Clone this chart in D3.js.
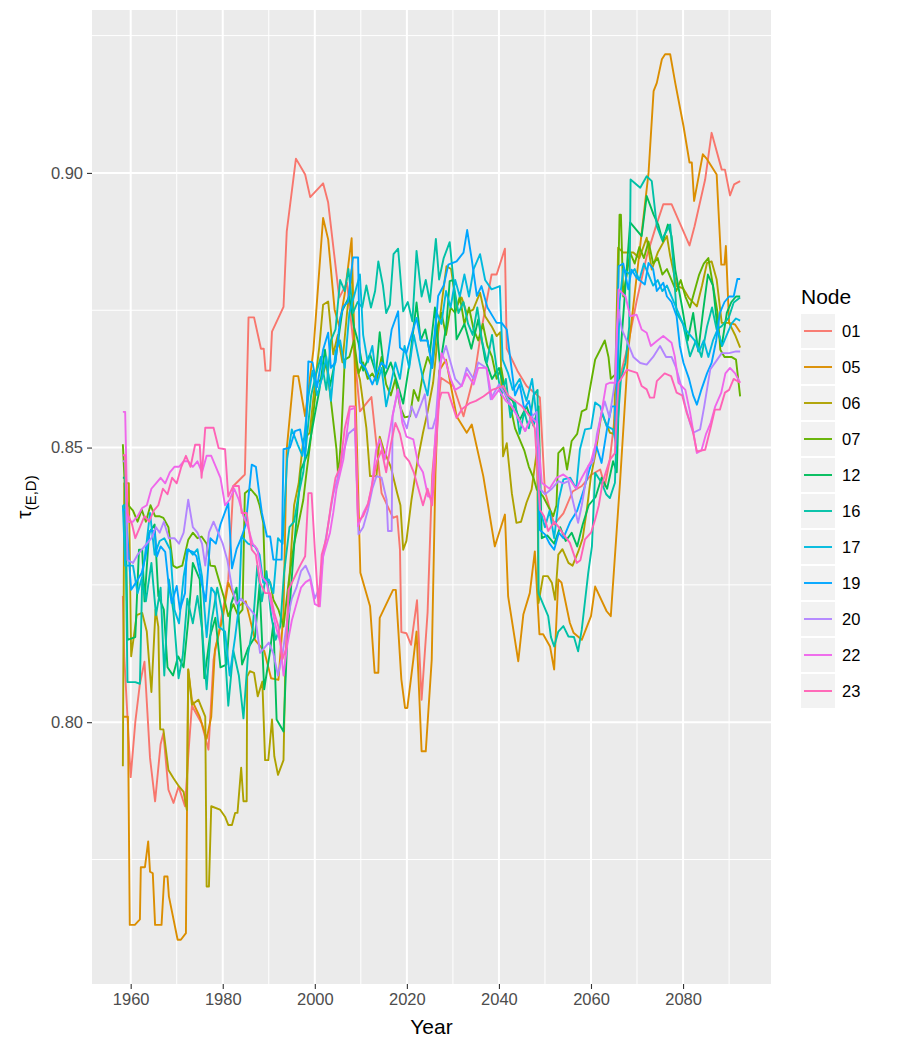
<!DOCTYPE html>
<html>
<head>
<meta charset="utf-8">
<script src="https://cdn.jsdelivr.net/npm/d3@7"></script>
<style>
  body { margin: 0; background: #fff; }
  svg text { font-family: "Liberation Sans", Arial, Helvetica, sans-serif; }
</style>
</head>
<body>
<div id="chart"></div>
<script>
// node ids and ggplot hue colours
const nodes = ["01", "05", "06", "07", "12", "16", "17", "19", "20", "22", "23"];
const colors = ["#F8766D", "#DB8E00", "#AEA200", "#64B200", "#00BD5C", "#00C1A7", "#00BADE", "#00A6FF", "#B385FF", "#EF67EB", "#FF63B6"];

// tick values
const xMajor = [1960, 1980, 2000, 2020, 2040, 2060, 2080];
const xMinor = [1970, 1990, 2010, 2030, 2050, 2070, 2090];
const yMajor = [0.80, 0.85, 0.90];
const yMinor = [0.775, 0.825, 0.875, 0.925];

// series values: [year, tau]
const s01 = [[1958.3,0.823],[1958.6,0.812],[1960,0.790],[1961,0.800],[1962,0.807],[1963,0.811],[1964.2,0.7935],[1965.3,0.7856],[1966.5,0.796],[1967.1,0.798],[1968.2,0.7877],[1969.3,0.7853],[1970.4,0.7883],[1971.8,0.7847],[1972.6,0.795],[1973.3,0.803],[1975.4,0.7998],[1976.9,0.795],[1978,0.8114],[1979.5,0.818],[1981.2,0.826],[1982.3,0.843],[1984.8,0.8451],[1985.6,0.8737],[1986.8,0.8737],[1988.3,0.868],[1988.9,0.868],[1989.3,0.864],[1990.3,0.864],[1990.7,0.8711],[1993.2,0.8756],[1993.9,0.8893],[1995.9,0.9026],[1997.9,0.8997],[1999,0.8956],[2001.8,0.8981],[2002.9,0.8946],[2005.3,0.8773],[2007,0.880],[2008.5,0.868],[2009.8,0.8566],[2012.3,0.8592],[2014.5,0.8417],[2017,0.8372],[2017.9,0.8375],[2018.5,0.8314],[2018.8,0.8164],[2019.9,0.8162],[2020.9,0.8141],[2022.2,0.8222],[2023.2,0.8041],[2024.5,0.820],[2025.5,0.845],[2027.4,0.8627],[2030.1,0.8612],[2032.3,0.8557],[2034.9,0.8642],[2036.2,0.8715],[2038.4,0.8815],[2039.5,0.8815],[2041.3,0.8862],[2041.7,0.868],[2044,0.864],[2046,0.8612],[2048.9,0.8591],[2050,0.842],[2052,0.836],[2054,0.838],[2056,0.842],[2058,0.843],[2060,0.845],[2062,0.846],[2063,0.843],[2064.1,0.8478],[2066,0.8619],[2067.8,0.8678],[2070,0.877],[2072.1,0.8848],[2074,0.890],[2075.7,0.8943],[2077.5,0.8943],[2081.4,0.8868],[2082.5,0.8903],[2084.8,0.8988],[2086.2,0.9073],[2088.4,0.9006],[2089.1,0.9006],[2090.2,0.8959],[2091.1,0.8979],[2092.4,0.8985]];
const s05 = [[1958.3,0.801],[1959.4,0.801],[1959.8,0.7631],[1960.9,0.7631],[1962,0.7641],[1962.2,0.7736],[1963.1,0.7736],[1963.8,0.7783],[1964.2,0.7728],[1964.8,0.7725],[1965.3,0.7631],[1966.7,0.7631],[1967.3,0.7719],[1968,0.7719],[1968.3,0.7683],[1970.2,0.7604],[1970.9,0.7604],[1972,0.7616],[1972.5,0.8096],[1973.3,0.804],[1975,0.801],[1976.5,0.797],[1977.5,0.801],[1978.3,0.8132],[1980,0.819],[1981.2,0.8254],[1983.4,0.8211],[1985,0.822],[1987,0.815],[1989,0.813],[1990.5,0.808],[1992.1,0.8077],[1993.2,0.820],[1993.9,0.8497],[1995.4,0.863],[1996.4,0.863],[1997.9,0.8557],[1999.7,0.8678],[2001.8,0.8918],[2002.9,0.8879],[2004.3,0.8751],[2005.3,0.8721],[2006.5,0.878],[2008,0.8881],[2008.7,0.864],[2009.9,0.8272],[2012,0.8211],[2013,0.809],[2013.8,0.809],[2014.1,0.819],[2017,0.8241],[2017.6,0.8241],[2018.8,0.8078],[2019.6,0.8026],[2020.1,0.8026],[2021.4,0.8114],[2022.1,0.8165],[2023.2,0.7947],[2024.1,0.7947],[2025.4,0.8114],[2026.2,0.845],[2027,0.864],[2028.5,0.866],[2030.8,0.8557],[2033,0.8527],[2034.1,0.8542],[2036.6,0.8448],[2039.1,0.832],[2041.3,0.8378],[2042,0.8229],[2044.2,0.8111],[2045.3,0.8196],[2046.7,0.8235],[2047.8,0.8311],[2048.8,0.816],[2049.6,0.816],[2051.1,0.8138],[2052,0.8096],[2052.9,0.826],[2053.6,0.8254],[2055.4,0.8181],[2056.2,0.8163],[2058,0.815],[2060,0.8193],[2060.9,0.8247],[2063.4,0.8202],[2064.3,0.8193],[2066.3,0.8436],[2068.1,0.8678],[2072.5,0.900],[2073.6,0.9149],[2074.3,0.9164],[2075.4,0.9207],[2076.1,0.9216],[2077.2,0.9216],[2078.3,0.9164],[2080.1,0.9085],[2081.4,0.9019],[2081.9,0.9019],[2082.4,0.8949],[2083,0.8976],[2084.3,0.9034],[2085.2,0.9025],[2087.3,0.8997],[2088.3,0.8833],[2089,0.8833],[2089.3,0.8867],[2090,0.8727],[2091.3,0.8724],[2092.4,0.871]];
const s06 = [[1958.3,0.792],[1958.6,0.8435],[1959.6,0.8435],[1960.1,0.812],[1961.3,0.8195],[1962.5,0.8199],[1963.5,0.8165],[1964.5,0.8055],[1965.4,0.8205],[1966,0.8174],[1966.4,0.7987],[1967.1,0.7987],[1968.2,0.7913],[1969.3,0.7898],[1970.5,0.7883],[1971.5,0.7873],[1972.2,0.784],[1972.5,0.8096],[1973.3,0.8032],[1974.7,0.8041],[1976.2,0.801],[1976.5,0.7701],[1977,0.7701],[1977.5,0.7847],[1979.4,0.7841],[1980.5,0.7828],[1981.2,0.7813],[1982,0.7813],[1982.7,0.7835],[1983.2,0.7835],[1984,0.7917],[1984.5,0.7856],[1985.2,0.7856],[1985.3,0.8083],[1985.9,0.8093],[1986.8,0.809],[1987.6,0.8047],[1988.6,0.8074],[1989.2,0.7931],[1989.9,0.7931],[1990.7,0.8005],[1991.2,0.7938],[1992,0.7904],[1993.2,0.7931],[1993.6,0.8105],[1994.5,0.8265],[1995.5,0.8395],[1996.5,0.8435],[1997.5,0.8515],[1998.9,0.8527],[2000,0.8615],[2001,0.8685],[2001.8,0.876],[2002.9,0.8766],[2004,0.867],[2005,0.8705],[2006,0.8655],[2007,0.8745],[2008,0.8824],[2008.8,0.8657],[2009.8,0.8624],[2011.2,0.8536],[2012,0.8448],[2013.4,0.8448],[2014.1,0.852],[2015,0.8495],[2016.5,0.8465],[2017.9,0.8417],[2018.6,0.8395],[2019.2,0.8314],[2019.9,0.833],[2021,0.8405],[2022.3,0.8475],[2023.5,0.8527],[2024.5,0.8565],[2025.7,0.8618],[2026.8,0.8709],[2027.6,0.8765],[2028.6,0.883],[2029.6,0.8825],[2030.8,0.8757],[2031.9,0.8773],[2033,0.8745],[2034.4,0.8751],[2035.9,0.8782],[2037,0.8739],[2038.4,0.8721],[2039.5,0.8703],[2040.3,0.871],[2040.6,0.8582],[2040.9,0.8484],[2041.7,0.8508],[2042.8,0.8417],[2043.8,0.8363],[2044.8,0.8365],[2046,0.84],[2047.1,0.8424],[2048.3,0.8497],[2048.6,0.8217],[2049.6,0.8266],[2050.6,0.8266],[2051.5,0.8254],[2052.2,0.8223],[2052.9,0.8305],[2053.8,0.8315],[2055.1,0.829],[2056,0.8285],[2057.2,0.831],[2058.2,0.8335],[2059.1,0.8387],[2060,0.8448],[2061,0.849],[2062.3,0.8563],[2063.2,0.8545],[2064.1,0.8527],[2065,0.8525],[2065.9,0.8864],[2067,0.8855],[2069.2,0.8855],[2070.5,0.8845],[2072.1,0.8882],[2073.2,0.8824],[2074.5,0.8855],[2075.8,0.8875],[2076.5,0.8885],[2077.2,0.8849],[2078.6,0.8794],[2080,0.879],[2081.2,0.8773],[2083,0.8757],[2084.1,0.8794],[2085.2,0.8836],[2086.2,0.8839],[2087.3,0.8806],[2088.4,0.8727],[2090,0.8727],[2091.3,0.8705],[2092.4,0.8682]];
const s07 = [[1958.3,0.8506],[1958.8,0.8415],[1959.5,0.8395],[1960.5,0.8385],[1961.5,0.8365],[1962.4,0.8387],[1963.3,0.8365],[1964.3,0.8395],[1965.3,0.8375],[1966.2,0.8375],[1967.1,0.8372],[1968.2,0.8355],[1969.2,0.8285],[1970,0.8281],[1971.2,0.8285],[1972.5,0.8332],[1973.5,0.8345],[1974.5,0.8335],[1975.4,0.8338],[1976.5,0.8325],[1977.3,0.8285],[1978.3,0.8284],[1979.3,0.8255],[1980.2,0.8229],[1981.2,0.8193],[1982.3,0.8215],[1983.3,0.8195],[1984.3,0.8205],[1984.8,0.8417],[1986,0.8425],[1987.4,0.8411],[1988,0.8395],[1988.8,0.8363],[1989.2,0.8254],[1990.3,0.8255],[1991,0.8223],[1992.1,0.8205],[1993.2,0.8174],[1994.3,0.8254],[1995.5,0.8325],[1996.5,0.8363],[1997.5,0.8405],[1998.2,0.8455],[1999,0.8508],[2000.4,0.8618],[2001.5,0.8625],[2002.5,0.8655],[2003.5,0.8585],[2004.7,0.8497],[2005.1,0.8445],[2005.8,0.853],[2006.5,0.866],[2007.5,0.8665],[2008.5,0.8695],[2009.5,0.8635],[2010.5,0.8655],[2011.5,0.8625],[2012.5,0.8635],[2013.4,0.8621],[2014.5,0.8665],[2015.5,0.8615],[2016.5,0.8595],[2017.5,0.8625],[2018.5,0.8575],[2019.5,0.8555],[2020.7,0.8557],[2021.5,0.8605],[2022.5,0.8585],[2023.5,0.8635],[2024.5,0.8665],[2025.5,0.8645],[2026.5,0.8715],[2027.5,0.8745],[2028.5,0.8705],[2029.5,0.8755],[2030.5,0.8745],[2031.5,0.8775],[2032.5,0.8725],[2033.5,0.8755],[2034.5,0.8715],[2035.5,0.8695],[2036.5,0.8725],[2037.5,0.8685],[2038.5,0.8665],[2039.5,0.8625],[2040.5,0.8645],[2041.5,0.8595],[2042.5,0.8575],[2043.5,0.8535],[2044.5,0.8515],[2045.5,0.8495],[2046.5,0.8465],[2047.5,0.8445],[2048.2,0.8424],[2049.6,0.8411],[2050.7,0.8393],[2051.8,0.8375],[2052.5,0.8395],[2052.9,0.849],[2054,0.85],[2054.8,0.846],[2055.8,0.8512],[2057,0.8525],[2058,0.8566],[2059,0.857],[2060,0.8618],[2060.9,0.866],[2062,0.8678],[2063,0.8695],[2063.8,0.8665],[2064.3,0.8625],[2065.5,0.8635],[2066.2,0.8924],[2066.5,0.8924],[2067,0.8775],[2068.5,0.8855],[2069.5,0.8835],[2070.5,0.8865],[2071.5,0.8845],[2072.5,0.8875],[2073.5,0.8835],[2074.5,0.8845],[2075.5,0.8815],[2076.5,0.8825],[2077.5,0.8805],[2078.5,0.8785],[2079.5,0.8805],[2080.5,0.8775],[2081.5,0.8755],[2082.5,0.8785],[2083.5,0.8815],[2084.5,0.8835],[2085.5,0.8845],[2086.5,0.8795],[2087.5,0.8745],[2088.1,0.8678],[2089,0.8665],[2090.5,0.8665],[2091.5,0.866],[2092.4,0.8593]];
const s12 = [[1958.3,0.8445],[1958.8,0.8445],[1959.3,0.815],[1961,0.8155],[1961.8,0.8314],[1962.5,0.8314],[1963,0.822],[1964,0.8345],[1965.2,0.836],[1966,0.823],[1967.2,0.8205],[1968,0.81],[1969.2,0.8085],[1970.3,0.812],[1971.5,0.81],[1972.5,0.8185],[1973.5,0.829],[1975,0.826],[1976,0.808],[1977.2,0.8155],[1978.4,0.819],[1979.5,0.81],[1980.8,0.8105],[1981.8,0.8215],[1983,0.8245],[1984.2,0.8105],[1985.5,0.8135],[1987,0.8155],[1988,0.825],[1989,0.806],[1990.2,0.8125],[1991,0.818],[1991.7,0.8005],[1993.2,0.7983],[1994,0.815],[1995.5,0.832],[1997,0.846],[1998.5,0.849],[2000,0.856],[2001,0.8605],[2002.2,0.8678],[2003.3,0.8612],[2004.5,0.866],[2006,0.875],[2007.5,0.8775],[2008.5,0.872],[2009.5,0.869],[2010.5,0.864],[2012,0.867],[2013.3,0.8635],[2014.1,0.871],[2015.2,0.863],[2016.5,0.8655],[2018,0.8615],[2019.2,0.858],[2020.5,0.865],[2022.1,0.8764],[2023,0.8695],[2024,0.8715],[2025,0.8672],[2026.1,0.8755],[2027.2,0.865],[2028.6,0.8724],[2029.3,0.8803],[2030.1,0.8805],[2030.8,0.8697],[2032.5,0.8725],[2034,0.868],[2035.5,0.8733],[2037,0.866],[2038.5,0.8625],[2040,0.8645],[2041.5,0.8595],[2043,0.8585],[2044.5,0.855],[2046,0.8575],[2047.5,0.854],[2048.6,0.8575],[2049.3,0.8335],[2050.5,0.834],[2052,0.8325],[2053.3,0.8355],[2054.5,0.833],[2055.8,0.8345],[2057,0.832],[2058.2,0.836],[2059.5,0.8395],[2061,0.841],[2062.3,0.8445],[2063.5,0.8425],[2064.8,0.8475],[2065.6,0.8455],[2066.3,0.866],[2067.5,0.8795],[2068.5,0.891],[2070,0.8895],[2071,0.8885],[2072.1,0.8958],[2073.6,0.8924],[2074.6,0.8906],[2075.6,0.8875],[2076.7,0.8906],[2077.5,0.8885],[2078.3,0.8824],[2079.8,0.8755],[2081,0.8695],[2082.2,0.8745],[2083.3,0.8675],[2084.3,0.8745],[2085.4,0.8815],[2086.5,0.8795],[2087.5,0.8715],[2088.4,0.8685],[2089.5,0.8745],[2090.5,0.8765],[2091.5,0.8775],[2092.4,0.8775]];
const s16 = [[1958.3,0.8395],[1958.8,0.8395],[1959.3,0.8073],[1961,0.8073],[1962,0.807],[1962.5,0.826],[1963.3,0.822],[1964.5,0.829],[1965.5,0.8195],[1966.5,0.8245],[1967.3,0.8085],[1968.3,0.826],[1969.3,0.82],[1970.4,0.808],[1971.3,0.812],[1972.3,0.8225],[1973.5,0.818],[1974.5,0.823],[1975.5,0.817],[1976.5,0.806],[1977.5,0.818],[1978.8,0.8245],[1980,0.8195],[1981.2,0.803],[1982.3,0.813],[1983.5,0.8085],[1984.5,0.8007],[1985.5,0.8125],[1986.5,0.817],[1987.5,0.8285],[1988.5,0.822],[1989.5,0.8275],[1990.5,0.8195],[1991.5,0.815],[1992.5,0.8175],[1993.3,0.827],[1994.5,0.8355],[1995.5,0.8365],[1996.5,0.8415],[1997.5,0.8455],[1998.3,0.852],[1999.2,0.8595],[2000.3,0.8635],[2001.3,0.8665],[2002.5,0.8605],[2003.5,0.8695],[2004.5,0.8715],[2005.5,0.8805],[2006.5,0.8785],[2007.3,0.8825],[2008.3,0.8745],[2009.3,0.8765],[2010.3,0.8755],[2011.2,0.8795],[2012.2,0.8755],[2013.1,0.8785],[2013.8,0.8839],[2014.8,0.8795],[2015.5,0.8745],[2016.3,0.876],[2017.1,0.8852],[2018.1,0.8862],[2019.2,0.8748],[2020.2,0.8765],[2021.2,0.873],[2022.1,0.8858],[2023.2,0.8775],[2024.1,0.8805],[2025,0.8765],[2026.3,0.888],[2027,0.8806],[2028,0.8845],[2029.3,0.8874],[2030.3,0.879],[2031.2,0.8745],[2032.3,0.8765],[2033.3,0.8725],[2034.3,0.8705],[2035.3,0.8755],[2036.3,0.8695],[2037.4,0.8655],[2038.5,0.8705],[2039.5,0.8645],[2040.5,0.8595],[2041.5,0.8625],[2042.5,0.8555],[2043.5,0.8585],[2044.5,0.8525],[2045.5,0.8565],[2046.5,0.8535],[2047.5,0.8595],[2048.4,0.8605],[2048.6,0.8235],[2049.6,0.8215],[2050.7,0.8193],[2051.3,0.8155],[2052,0.8138],[2052.9,0.8165],[2054,0.8175],[2055.1,0.8156],[2056.3,0.8155],[2057.2,0.8129],[2058,0.8169],[2059.4,0.8272],[2060.2,0.832],[2060.9,0.8454],[2062.3,0.8436],[2063.3,0.8415],[2064.1,0.8408],[2065.2,0.8436],[2065.5,0.851],[2066.5,0.8625],[2067.5,0.8655],[2068.3,0.872],[2068.6,0.8988],[2070.7,0.8973],[2072.1,0.8994],[2073.2,0.8985],[2074.3,0.8903],[2075.4,0.8879],[2077.2,0.8906],[2077.8,0.8845],[2078.6,0.8745],[2080,0.8725],[2081.5,0.8666],[2082.8,0.8695],[2084,0.8665],[2085.2,0.872],[2086.3,0.8755],[2087.3,0.8715],[2088.4,0.8721],[2089.9,0.8736],[2091,0.8764],[2092.4,0.8773]];
const s17 = [[1958.3,0.8395],[1958.8,0.8285],[1960.5,0.8285],[1961.5,0.8235],[1962.5,0.8265],[1963.5,0.833],[1964.2,0.8381],[1965.2,0.8305],[1966.3,0.833],[1967.3,0.8335],[1968.6,0.8314],[1969.5,0.8205],[1970.5,0.818],[1971.5,0.8265],[1972.5,0.8315],[1973.5,0.8305],[1974.5,0.8315],[1975.5,0.8265],[1976.5,0.8155],[1977.5,0.8245],[1978.3,0.8235],[1979.1,0.8174],[1980.5,0.8165],[1981.5,0.8085],[1982.7,0.8156],[1983.5,0.821],[1984.1,0.8338],[1985.5,0.8325],[1987,0.832],[1988,0.8305],[1988.8,0.8254],[1990,0.826],[1991,0.8235],[1992,0.8335],[1993,0.8325],[1994,0.848],[1995,0.8533],[1996.3,0.8505],[1997.3,0.8485],[1998.6,0.8593],[1999.5,0.864],[2000.5,0.8595],[2001.5,0.8625],[2002.5,0.8665],[2003.5,0.8585],[2004.5,0.8675],[2005.5,0.8695],[2006.5,0.8645],[2007.5,0.8745],[2008.5,0.8775],[2009.8,0.8815],[2010.5,0.8705],[2011.5,0.8655],[2012.5,0.8685],[2013.5,0.8615],[2014.5,0.8645],[2015.5,0.8575],[2016.5,0.8615],[2017.5,0.8655],[2018.5,0.8625],[2019.5,0.8685],[2020.5,0.8645],[2021.5,0.8705],[2022.5,0.8665],[2023.5,0.8625],[2024.5,0.8595],[2025.5,0.8665],[2026.5,0.8745],[2027.5,0.8725],[2028.5,0.8785],[2029.5,0.8755],[2030.5,0.8805],[2031.5,0.8775],[2032.5,0.8815],[2033.5,0.8775],[2034.5,0.8825],[2035.9,0.8852],[2037,0.8805],[2038.4,0.8788],[2040.2,0.8794],[2040.8,0.866],[2042,0.8635],[2043,0.8605],[2044.5,0.8625],[2046,0.8585],[2047.2,0.8625],[2048.2,0.8555],[2049,0.8385],[2050,0.8355],[2051,0.8385],[2052,0.8335],[2053,0.8405],[2054,0.8442],[2055.5,0.8445],[2056.8,0.8425],[2057.6,0.8497],[2058.7,0.8533],[2060,0.8535],[2060.9,0.8582],[2062,0.8575],[2063.4,0.8539],[2064.8,0.8533],[2065.5,0.8505],[2066.2,0.8765],[2067,0.8825],[2068.5,0.8815],[2069.5,0.8825],[2070.5,0.8805],[2071.5,0.8835],[2072.5,0.8815],[2073.5,0.8795],[2074.5,0.8805],[2075.5,0.8785],[2076.5,0.8795],[2077.5,0.8775],[2078.5,0.8755],[2079.5,0.8735],[2080.5,0.8715],[2081.5,0.8705],[2082.5,0.8695],[2083.5,0.8675],[2084.5,0.8695],[2085.5,0.8665],[2086.5,0.8695],[2087.5,0.8715],[2088.5,0.8685],[2089.5,0.8705],[2090.5,0.8725],[2091.5,0.8735],[2092.4,0.8731]];
const s19 = [[1958.3,0.8387],[1958.9,0.8387],[1960.1,0.8241],[1961.2,0.8255],[1962.4,0.8272],[1963.3,0.8305],[1964.2,0.8348],[1965.2,0.8348],[1965.7,0.8302],[1966.5,0.832],[1967.5,0.831],[1968.2,0.8254],[1968.9,0.8217],[1970,0.8248],[1970.7,0.8205],[1971.8,0.8235],[1972.2,0.8314],[1973.5,0.831],[1974.3,0.8302],[1975.4,0.8254],[1976.3,0.822],[1977.3,0.8335],[1978.5,0.8325],[1979.5,0.836],[1981.2,0.8399],[1982,0.828],[1983,0.8315],[1984,0.8335],[1985,0.836],[1986.3,0.8469],[1987.2,0.8465],[1987.8,0.8425],[1988.5,0.8381],[1989.6,0.8338],[1990.3,0.8338],[1991,0.8296],[1992.8,0.8296],[1993.2,0.8497],[1994.6,0.85],[1995.7,0.853],[1996.8,0.8533],[1997.9,0.8484],[1998.6,0.8657],[1999.5,0.8655],[2000.5,0.861],[2001.8,0.8678],[2002.9,0.8709],[2003.5,0.8645],[2004.5,0.8655],[2005.5,0.8735],[2006.2,0.8757],[2007.2,0.8765],[2008.3,0.8846],[2009.4,0.8846],[2009.8,0.8655],[2011,0.8645],[2012.5,0.8615],[2013.5,0.8635],[2014.5,0.8655],[2015.5,0.8645],[2016.7,0.8715],[2018.1,0.8748],[2018.5,0.8682],[2019.9,0.8672],[2021,0.8705],[2022.1,0.8736],[2023,0.8695],[2024.5,0.8695],[2025.5,0.8645],[2026.8,0.8776],[2028,0.8795],[2029,0.8833],[2030.8,0.8839],[2032.3,0.8855],[2033.1,0.8896],[2034.1,0.8842],[2035.2,0.8776],[2036.2,0.8794],[2037.5,0.8755],[2039.5,0.8727],[2040.6,0.8727],[2041.7,0.8715],[2042.4,0.8666],[2043.5,0.8595],[2044.5,0.8615],[2045.5,0.857],[2046.5,0.8585],[2047.5,0.8545],[2048.3,0.8555],[2048.9,0.835],[2050,0.8342],[2051,0.8325],[2052,0.8314],[2053,0.8345],[2054,0.8335],[2055.5,0.8365],[2057,0.8385],[2058.5,0.8425],[2059.5,0.8455],[2061.2,0.8502],[2062.3,0.8472],[2063.5,0.8535],[2064.5,0.8575],[2065.2,0.8575],[2065.4,0.849],[2066,0.883],[2067,0.8835],[2068.1,0.8788],[2068.8,0.8824],[2069.9,0.8809],[2071.7,0.8797],[2072.5,0.8836],[2073.5,0.8825],[2074.3,0.8785],[2075.7,0.88],[2076.5,0.8775],[2077.5,0.8765],[2078.6,0.8739],[2079.3,0.8685],[2080.1,0.8654],[2081.3,0.8625],[2082.2,0.8595],[2083,0.8578],[2084,0.8606],[2085.2,0.8635],[2086.2,0.8654],[2087.2,0.8695],[2088,0.8745],[2089,0.8765],[2090,0.8775],[2091,0.8775],[2091.8,0.8807],[2092.4,0.8807]];
const s20 = [[1958.3,0.8475],[1958.8,0.8475],[1959.3,0.8295],[1960.5,0.829],[1961.5,0.8305],[1962.5,0.8315],[1963.5,0.8325],[1964.5,0.8335],[1965.5,0.8355],[1966.3,0.8345],[1967.2,0.8365],[1968.3,0.8335],[1969.5,0.8335],[1970.5,0.8325],[1971.5,0.8345],[1972.5,0.8405],[1973.5,0.8355],[1974.5,0.8345],[1975.5,0.8325],[1976.2,0.8285],[1977,0.8345],[1978,0.8365],[1979,0.8345],[1980,0.8325],[1981,0.8295],[1982,0.8245],[1983,0.8215],[1984,0.8225],[1985,0.8215],[1986,0.8205],[1987,0.8195],[1988.1,0.8126],[1989,0.8135],[1990,0.8145],[1991,0.8125],[1992,0.8085],[1993,0.8125],[1994,0.8185],[1995,0.8225],[1996,0.8245],[1997,0.8275],[1998,0.8285],[1999,0.8265],[2000,0.8225],[2001,0.8245],[2002,0.8315],[2003,0.8365],[2004,0.8415],[2005,0.8445],[2006,0.8485],[2007.3,0.8525],[2008.7,0.8535],[2009.5,0.8342],[2010.5,0.8355],[2011.5,0.8385],[2012.5,0.8425],[2013.4,0.8448],[2014.5,0.8445],[2015.6,0.8405],[2015.9,0.8348],[2016.7,0.8348],[2016.9,0.8557],[2018,0.8605],[2019,0.8555],[2020,0.8535],[2021,0.8575],[2022,0.8555],[2023.9,0.8597],[2024.7,0.8535],[2025.6,0.8535],[2026.3,0.8555],[2027.2,0.8654],[2028.5,0.8685],[2029.5,0.8655],[2030.5,0.8625],[2031.9,0.8612],[2033,0.8645],[2034.5,0.8625],[2035.5,0.8655],[2037.3,0.8645],[2038.2,0.8588],[2040,0.8615],[2041.5,0.8595],[2043.8,0.856],[2045.7,0.853],[2047,0.8555],[2048.2,0.8565],[2048.9,0.8425],[2050,0.8415],[2051.5,0.8425],[2052.9,0.8439],[2054,0.8435],[2055.1,0.8439],[2056,0.8405],[2057.2,0.8363],[2058,0.8395],[2059.4,0.8466],[2060.5,0.8475],[2061.3,0.8525],[2062.3,0.8563],[2063,0.8584],[2064,0.8555],[2065.2,0.8618],[2065.6,0.8715],[2066,0.8751],[2066.7,0.8715],[2068,0.869],[2069.2,0.8665],[2070.7,0.8654],[2072.1,0.8651],[2073.5,0.8665],[2075,0.8685],[2076.3,0.8665],[2077.5,0.8665],[2078.5,0.8645],[2079.5,0.8615],[2080.5,0.8575],[2081.5,0.8545],[2082.2,0.8527],[2083.7,0.8533],[2084.6,0.8575],[2085.9,0.8642],[2087,0.8655],[2088.4,0.8672],[2090,0.8672],[2091.5,0.8675],[2092.4,0.8675]];
const s22 = [[1958.3,0.8565],[1958.8,0.8565],[1959.3,0.8365],[1960.5,0.8365],[1961.5,0.8375],[1962.5,0.839],[1963.5,0.8395],[1964.5,0.8425],[1965.5,0.8435],[1966.5,0.8445],[1967.5,0.8435],[1968.5,0.8455],[1969.5,0.8465],[1970.5,0.8465],[1971.5,0.8475],[1972.5,0.8475],[1973.5,0.8465],[1974.5,0.8475],[1975.5,0.8455],[1976.5,0.8485],[1977.5,0.8485],[1978.5,0.8465],[1979.5,0.8445],[1980.5,0.8395],[1981.5,0.8405],[1982.5,0.8425],[1983.5,0.8405],[1984.5,0.8375],[1985.5,0.8355],[1986.5,0.8325],[1987.5,0.8315],[1988.5,0.8265],[1989.5,0.8255],[1990.5,0.8215],[1991.5,0.8175],[1992.5,0.8145],[1993.2,0.8085],[1994,0.814],[1995,0.8185],[1996,0.8215],[1997,0.8245],[1998,0.8255],[1999,0.826],[2000,0.8215],[2001.1,0.8211],[2001.8,0.8302],[2003.3,0.8345],[2004,0.8381],[2004.7,0.8424],[2006.2,0.8478],[2007.6,0.8569],[2008.7,0.8572],[2009.4,0.8357],[2010.5,0.838],[2011.6,0.8399],[2012.3,0.8424],[2013.3,0.8495],[2014.1,0.8515],[2015.2,0.8478],[2016.2,0.8525],[2017,0.8563],[2018.1,0.8606],[2019,0.8545],[2019.9,0.852],[2021.4,0.8515],[2022.5,0.8469],[2023.5,0.8455],[2024.6,0.8411],[2025.4,0.8411],[2026.2,0.8525],[2026.8,0.8587],[2027.5,0.8672],[2028.5,0.8655],[2029.5,0.8625],[2030.5,0.8605],[2031.9,0.8612],[2033,0.8635],[2034.5,0.8615],[2035.5,0.8645],[2037.3,0.8645],[2038.5,0.8588],[2040,0.8605],[2041.5,0.8585],[2042.8,0.8575],[2043.8,0.856],[2045.7,0.853],[2047,0.8555],[2048.3,0.8545],[2049.3,0.8436],[2051,0.8425],[2052.5,0.8445],[2054,0.8451],[2055.4,0.8442],[2056.8,0.8425],[2058,0.8445],[2060,0.8475],[2061.3,0.8515],[2062.5,0.8575],[2063.3,0.8615],[2064.1,0.8618],[2065.3,0.8618],[2065.8,0.8745],[2066,0.8788],[2067.5,0.8775],[2068.5,0.8739],[2069.9,0.8742],[2071,0.8715],[2072.1,0.8709],[2073,0.8685],[2074.3,0.8694],[2075.7,0.8703],[2077.5,0.8691],[2078.2,0.8666],[2079,0.8618],[2080.5,0.8605],[2081.5,0.8565],[2082.2,0.853],[2083,0.849],[2084,0.8495],[2085,0.8525],[2086,0.8545],[2087,0.8575],[2088.3,0.86],[2089.2,0.8635],[2090.2,0.8645],[2091.3,0.8635],[2092.4,0.8618]];
const s23 = [[1958.3,0.8486],[1958.8,0.8486],[1959.3,0.838],[1960.3,0.836],[1961,0.8335],[1962,0.8355],[1963,0.8375],[1964,0.8365],[1965,0.8385],[1966,0.8395],[1967,0.8425],[1968,0.8415],[1969,0.8445],[1970,0.8435],[1971,0.8465],[1972,0.8485],[1973,0.8465],[1974,0.8505],[1975,0.8505],[1975.4,0.8445],[1976.2,0.8536],[1978,0.8536],[1979.1,0.8499],[1980.5,0.8497],[1981.2,0.8411],[1982.3,0.843],[1983.5,0.843],[1984.1,0.8381],[1985.2,0.8381],[1986.3,0.8314],[1987.2,0.8305],[1988.1,0.8254],[1989.2,0.8235],[1990.3,0.8235],[1991.2,0.8199],[1992.1,0.8174],[1993,0.8115],[1993.8,0.8135],[1994.3,0.8241],[1995.7,0.8266],[1996.8,0.8285],[1997.9,0.8302],[1998.6,0.8417],[1999.3,0.8417],[2000,0.8315],[2000.8,0.8211],[2001.5,0.8305],[2002.5,0.8335],[2003.5,0.8395],[2004.5,0.8445],[2005.5,0.8465],[2006.5,0.8535],[2007.6,0.8575],[2008.7,0.8575],[2009.4,0.8365],[2010.5,0.8375],[2011.5,0.8395],[2012.5,0.8435],[2013.5,0.8475],[2014.5,0.8495],[2015.5,0.8455],[2016.5,0.8505],[2017.5,0.8545],[2018.5,0.8525],[2019.5,0.8485],[2020.5,0.8475],[2021.5,0.8455],[2022.5,0.8425],[2023.5,0.8395],[2024.5,0.8425],[2025.5,0.8395],[2026.3,0.8495],[2027,0.8585],[2027.5,0.86],[2029,0.86],[2030.8,0.8554],[2032,0.857],[2033.7,0.8581],[2035,0.8585],[2036.6,0.8593],[2038.5,0.8605],[2040.9,0.8612],[2042,0.8595],[2043.5,0.8585],[2045,0.8575],[2046.7,0.8557],[2047.8,0.8535],[2048.9,0.8387],[2049.8,0.8375],[2050.7,0.8348],[2052,0.8365],[2053,0.8355],[2054,0.8342],[2055.4,0.8327],[2056.9,0.829],[2057.7,0.8295],[2058.7,0.8333],[2060,0.8345],[2060.9,0.8369],[2061.7,0.8395],[2062.5,0.8436],[2064.1,0.8478],[2065.2,0.849],[2065.6,0.8565],[2066,0.8618],[2067.8,0.8642],[2070,0.8636],[2071,0.8612],[2072.1,0.8606],[2072.8,0.8591],[2073.7,0.8591],[2074.3,0.8621],[2076,0.8635],[2077.4,0.863],[2078.6,0.86],[2079.8,0.8595],[2080.8,0.8563],[2082,0.8535],[2083,0.8493],[2084.8,0.8496],[2085.9,0.8533],[2086.9,0.8569],[2088,0.8569],[2089.1,0.86],[2090,0.8605],[2091,0.8625],[2092.4,0.8618]];

const series = [s01, s05, s06, s07, s12, s16, s17, s19, s20, s22, s23];

const W = 900, H = 1050;
const margin = { top: 10, right: 129, bottom: 66, left: 92 };
const width = W - margin.left - margin.right;
const height = H - margin.top - margin.bottom;

const svg = d3.select("#chart").append("svg")
    .attr("width", W)
    .attr("height", H);

const g = svg.append("g")
    .attr("transform", `translate(${margin.left}, ${margin.top})`);

// scales with ggplot's 5% expansion
const all = series.flat();
const xExt = d3.extent(all, d => d[0]);
const yExt = d3.extent(all, d => d[1]);
const xPad = (xExt[1] - xExt[0]) * 0.05;
const yPad = (yExt[1] - yExt[0]) * 0.05;

const x = d3.scaleLinear()
    .domain([xExt[0] - xPad, xExt[1] + xPad])
    .range([0, width]);

const y = d3.scaleLinear()
    .domain([yExt[0] - yPad, yExt[1] + yPad])
    .range([height, 0]);

// panel and grid
g.append("rect")
    .attr("width", width)
    .attr("height", height)
    .attr("fill", "#EBEBEB");

g.selectAll(".ygrid-minor")
    .data(yMinor.filter(v => y(v) >= 0 && y(v) <= height))
    .enter().append("line")
    .attr("x1", 0).attr("x2", width)
    .attr("y1", d => y(d)).attr("y2", d => y(d))
    .attr("stroke", "#fff").attr("stroke-width", 1);

g.selectAll(".xgrid-minor")
    .data(xMinor)
    .enter().append("line")
    .attr("y1", 0).attr("y2", height)
    .attr("x1", d => x(d)).attr("x2", d => x(d))
    .attr("stroke", "#fff").attr("stroke-width", 1);

g.selectAll(".ygrid")
    .data(yMajor)
    .enter().append("line")
    .attr("x1", 0).attr("x2", width)
    .attr("y1", d => y(d)).attr("y2", d => y(d))
    .attr("stroke", "#fff").attr("stroke-width", 2);

g.selectAll(".xgrid")
    .data(xMajor)
    .enter().append("line")
    .attr("y1", 0).attr("y2", height)
    .attr("x1", d => x(d)).attr("x2", d => x(d))
    .attr("stroke", "#fff").attr("stroke-width", 2);

// lines
const line = d3.line()
    .x(d => x(d[0]))
    .y(d => y(d[1]));

g.selectAll(".series")
    .data(series)
    .enter().append("path")
    .attr("d", line)
    .attr("fill", "none")
    .attr("stroke", (d, i) => colors[i])
    .attr("stroke-width", 1.9)
    .attr("stroke-linejoin", "round");

// axes
const xAxis = g.append("g")
    .attr("transform", `translate(0, ${height})`)
    .call(d3.axisBottom(x).tickValues(xMajor).tickFormat(d3.format("d")).tickSize(5).tickPadding(4));
const yAxis = g.append("g")
    .call(d3.axisLeft(y).tickValues(yMajor).tickFormat(d3.format(".2f")).tickSize(5).tickPadding(4));

[xAxis, yAxis].forEach(a => {
    a.select("path.domain").remove();
    a.selectAll(".tick line").attr("stroke", "#333333").attr("stroke-width", 1.1);
    a.selectAll(".tick text").attr("fill", "#4D4D4D").style("font-size", "16.5px");
});

// axis titles
svg.append("text")
    .attr("x", margin.left + width / 2)
    .attr("y", 1034)
    .attr("text-anchor", "middle")
    .style("font-size", "21px")
    .attr("fill", "#000")
    .text("Year");

const yt = svg.append("text")
    .attr("transform", `translate(31, ${margin.top + height / 2}) rotate(-90)`)
    .attr("text-anchor", "middle")
    .attr("fill", "#000");
yt.append("tspan").style("font-size", "21px").text("τ");
yt.append("tspan").style("font-size", "15px").attr("dy", 5).text("(E,D)");

// legend
const legend = svg.append("g")
    .attr("transform", "translate(801, 0)");

legend.append("text")
    .attr("x", 0)
    .attr("y", 304)
    .style("font-size", "21px")
    .attr("fill", "#000")
    .text("Node");

const key = legend.selectAll(".key")
    .data(nodes)
    .enter().append("g")
    .attr("transform", (d, i) => `translate(0, ${331 + i * 36})`);

key.append("rect")
    .attr("x", 0).attr("y", -17)
    .attr("width", 34).attr("height", 34)
    .attr("fill", "#F2F2F2");

key.append("line")
    .attr("x1", 3).attr("x2", 31)
    .attr("stroke", (d, i) => colors[i])
    .attr("stroke-width", 1.9);

key.append("text")
    .attr("x", 41)
    .attr("dy", "0.35em")
    .style("font-size", "16.5px")
    .attr("fill", "#000")
    .text(d => d);
</script>
</body>
</html>
